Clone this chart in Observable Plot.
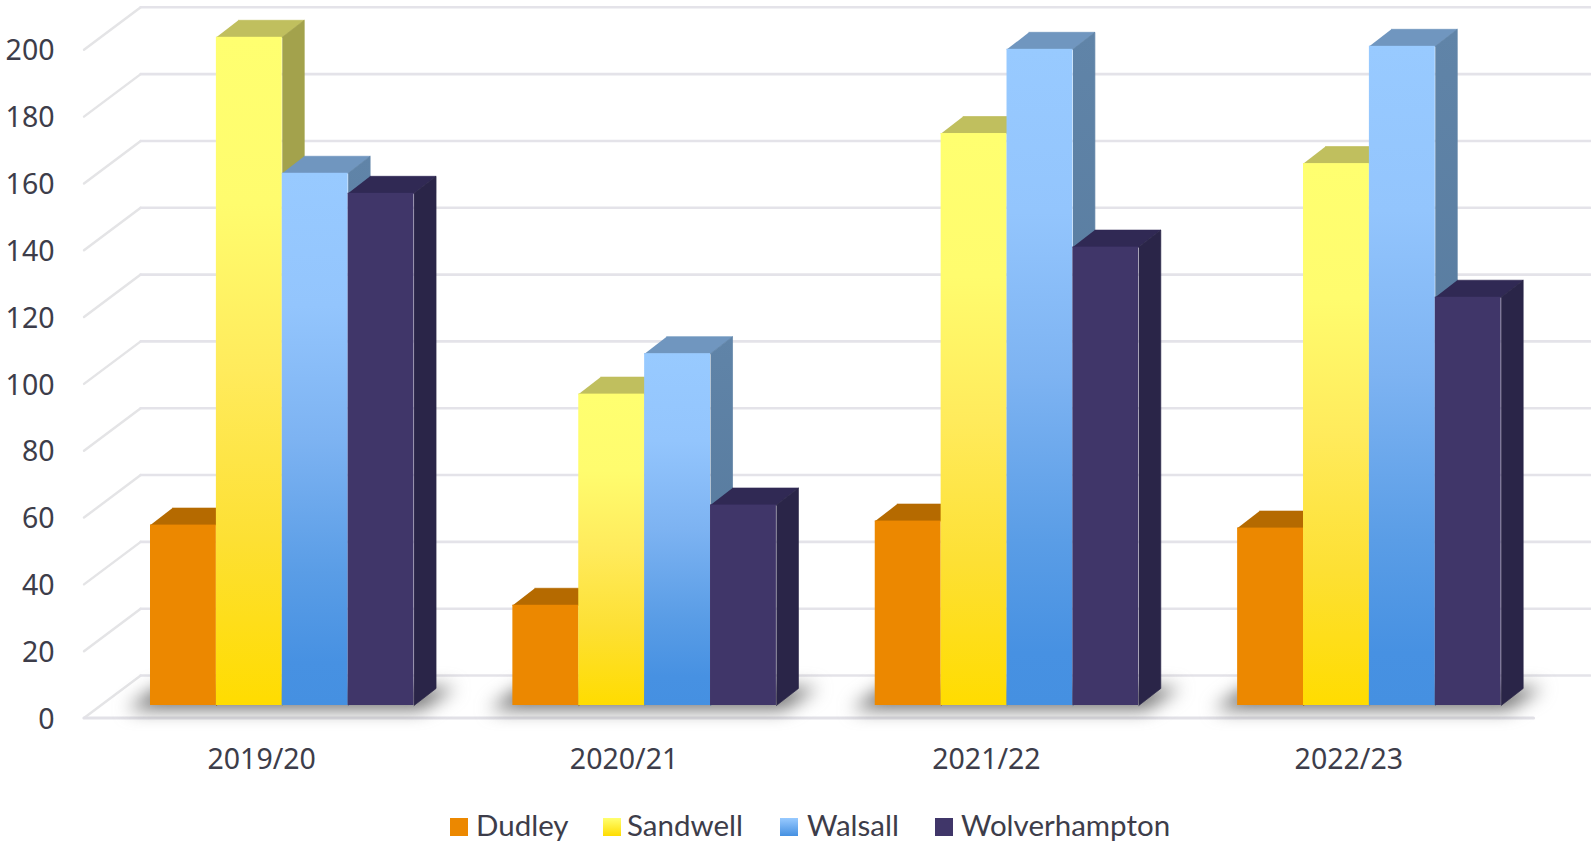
<!DOCTYPE html>
<html>
<head>
<meta charset="utf-8">
<script src="https://cdn.jsdelivr.net/npm/d3@7"></script>
<script src="https://cdn.jsdelivr.net/npm/@observablehq/plot@0.6"></script>
<style>
  html, body { margin: 0; padding: 0; background: #fff; }
  #chart { width: 1591px; height: 842px; position: relative; overflow: hidden; font-family: Lato, sans-serif; color: #3d3d4a; }
  #chart svg { display: block; }
  .legend { position: absolute; left: 0; top: 800px; width: 1591px; height: 42px; font-size: 29.5px; }
  .legend span { position: absolute; white-space: nowrap; line-height: 30px; top: 10px; }
  .legend i { position: absolute; top: 18px; width: 18px; height: 18px; display: block; }
</style>
</head>
<body>
<div id="chart"></div>
<script>
// Annual figures per borough, one value per financial year.
const years = ["2019/20", "2020/21", "2021/22", "2022/23"];
const dudley = [54, 30, 55.2, 53.1];
const sandwell = [200, 93.2, 171.2, 162.2];
const walsall = [159.3, 105.3, 196.4, 197.3];
const wolverhampton = [153.3, 60, 137.2, 122.2];
const yTicks = [0, 20, 40, 60, 80, 100, 120, 140, 160, 180, 200];

// Stepped 3D projection, expressed in scale units: x counts year groups, y counts chart values.
const slot = 1 / 5.5;          // one column is one slot wide, gap width 150%
const plotDepth = {x: 0.1565, y: 12.72};  // front edge of the floor to the back wall
const barDepth = {x: 0.0607, y: 5.09};    // depth of a single column
const barLift = 3.74;          // how far the columns stand behind the front edge, in values
const barStart = 0.1835;       // left edge of the first column inside its group

const series = [
  {name: "Dudley", values: dudley, front: "#ec8800", top: "#b56a00", side: "#a85f00"},
  {name: "Sandwell", values: sandwell, front: "url(#sandwellFront)", top: "#c0bf5e", side: "#a3a24c"},
  {name: "Walsall", values: walsall, front: "url(#walsallFront)", top: "#7096bf", side: "url(#walsallSide)"},
  {name: "Wolverhampton", values: wolverhampton, front: "#403669", top: "#302954", side: "#2a2548"}
];

// Gradient definitions shared by the column faces.
const gradients = [
  {id: "sandwellFront", stops: [[0, "#ffff70"], [0.25, "#fffc6e"], [0.5, "#ffeb5c"], [0.75, "#fde034"], [1, "#ffdc00"]]},
  {id: "walsallFront", stops: [[0, "#98caff"], [0.25, "#93c5fd"], [0.5, "#7db3f2"], [0.75, "#5a9de6"], [0.92, "#4791e2"], [1, "#4590e1"]]},
  {id: "walsallSide", stops: [[0, "#6084a8"], [1, "#527598"]]}
];
function gradientDefs() {
  const defs = d3.create("svg:defs");
  for (const g of gradients) {
    const lg = defs.append("linearGradient").attr("id", g.id).attr("x1", 0).attr("x2", 0).attr("y1", 0).attr("y2", 1);
    for (const [o, c] of g.stops) lg.append("stop").attr("offset", o).attr("stop-color", c);
  }
  return defs.node();
}

// Back-wall gridlines: diagonal from the front edge, then across the wall.
const wallLeft = yTicks.map((v) => [{x: 0, y: v}, {x: plotDepth.x, y: v + plotDepth.y}].map((p) => ({...p, id: v}))).flat();
const wallBack = yTicks.map((v) => [{x: plotDepth.x, y: v + plotDepth.y}, {x: 4 + plotDepth.x, y: v + plotDepth.y}].map((p) => ({...p, id: v}))).flat();
const floorFront = [{x: 0, y: 0}, {x: 4, y: 0}];

// Soft shadow cast on the floor by each cluster of columns.
const shadows = years.flatMap((_, i) => {
  const x0 = i + barStart, x1 = x0 + 4 * slot;
  return [
    {x: x0 - 0.065, y: barLift - 1.2, id: i},
    {x: x1 + 0.02, y: barLift - 1.2, id: i},
    {x: x1 + 0.115, y: barLift + 5.4, id: i},
    {x: x0 + 0.02, y: barLift + 5.4, id: i}
  ];
});

// Faces of one series: top and side parallelograms, then the front rectangle.
function faces(s, k) {
  const rows = s.values.map((v, i) => ({
    i, v,
    x1: i + barStart + k * slot,
    x2: i + barStart + (k + 1) * slot,
    y1: barLift,
    y2: barLift + v
  }));
  const top = rows.flatMap((r) => [
    {x: r.x1, y: r.y2, id: r.i},
    {x: r.x2, y: r.y2, id: r.i},
    {x: r.x2 + barDepth.x, y: r.y2 + barDepth.y, id: r.i},
    {x: r.x1 + barDepth.x, y: r.y2 + barDepth.y, id: r.i}
  ]);
  const side = rows.flatMap((r) => [
    {x: r.x2, y: r.y2, id: r.i},
    {x: r.x2 + barDepth.x, y: r.y2 + barDepth.y, id: r.i},
    {x: r.x2 + barDepth.x, y: r.y1 + barDepth.y, id: r.i},
    {x: r.x2, y: r.y1, id: r.i}
  ]);
  const polygon = {x: "x", y: "y", z: "id", strokeWidth: 0.7};
  return [
    Plot.line(top, {...polygon, fill: s.top, stroke: s.top}),
    Plot.line(side, {...polygon, fill: s.side, stroke: s.side}),
    Plot.rect(rows, {x1: "x1", x2: "x2", y1: "y1", y2: "y2", fill: s.front})
  ];
}

const chart = Plot.plot({
  width: 1591,
  height: 800,
  marginLeft: 83.5,
  marginRight: 58,
  marginTop: 49.3,
  marginBottom: 82.5,
  style: {background: "transparent", overflow: "visible"},
  x: {domain: [0, 4]},
  y: {domain: [0, 200]},
  marks: [
    gradientDefs,
    Plot.line(wallLeft, {x: "x", y: "y", z: "id", stroke: "#e4e4e6", strokeWidth: 2.4}),
    Plot.line(wallBack, {x: "x", y: "y", z: "id", stroke: "#e4e3e9", strokeWidth: 2.6}),
    Plot.line(floorFront, {x: "x", y: "y", stroke: "#e2e1e7", strokeWidth: 3.2}),
    Plot.line(shadows, {x: "x", y: "y", z: "id", stroke: "none", fill: "#707070", imageFilter: "blur(9px)"}),
    ...series.flatMap(faces),
    Plot.axisY({ticks: yTicks, tickSize: 0, tickPadding: 29.5, label: null, fontSize: 28.5, dy: 1.5, fill: "#3d3d4a"}),
    Plot.axisX({
      ticks: years.map((_, i) => i + 0.5),
      tickFormat: (d) => years[Math.floor(d)],
      tickSize: 0,
      tickPadding: 31,
      label: null,
      fontSize: 28.5,
      dx: -3.5,
      fill: "#3d3d4a"
    })
  ]
});

const root = document.getElementById("chart");
root.appendChild(chart);

// Legend row beneath the chart.
const legendItems = [
  {name: "Dudley", swatch: "#ec8800", sx: 450, tx: 476},
  {name: "Sandwell", swatch: "linear-gradient(#ffff70, #ffdc00)", sx: 603, tx: 627},
  {name: "Walsall", swatch: "linear-gradient(#98caff, #4590e1)", sx: 780, tx: 807},
  {name: "Wolverhampton", swatch: "#403669", sx: 935, tx: 961}
];
const legend = d3.select(root).append("div").attr("class", "legend");
for (const it of legendItems) {
  legend.append("i").style("left", it.sx + "px").style("background", it.swatch);
  legend.append("span").style("left", it.tx + "px").text(it.name);
}
</script>
</body>
</html>
